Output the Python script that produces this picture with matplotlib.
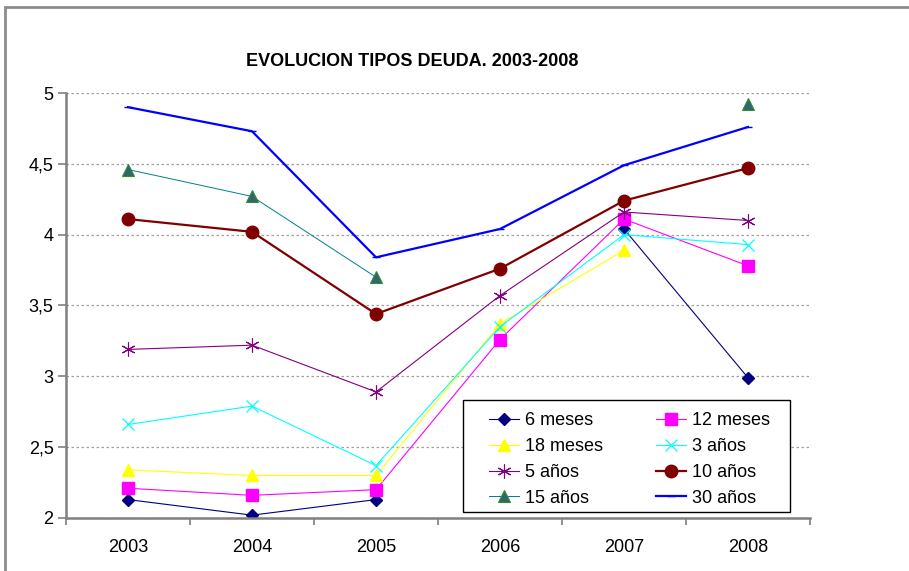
import numpy as np
import matplotlib
matplotlib.use("Agg")
import matplotlib.pyplot as plt
from matplotlib.patches import Rectangle

plt.rcParams['font.family'] = ['Liberation Sans', 'DejaVu Sans']

years = ["2003", "2004", "2005", "2006", "2007", "2008"]
nan = np.nan

seis_meses = [2.13, 2.02, 2.13, nan, 4.04, 2.99]
doce_meses = [2.21, 2.16, 2.20, 3.26, 4.11, 3.78]
dieciocho_meses = [2.34, 2.30, 2.30, 3.37, 3.89, nan]
tres_anos = [2.66, 2.79, 2.37, 3.35, 4.00, 3.93]
cinco_anos = [3.19, 3.22, 2.89, 3.57, 4.16, 4.10]
diez_anos = [4.11, 4.02, 3.44, 3.76, 4.24, 4.47]
quince_anos = [4.46, 4.27, 3.70, nan, nan, 4.92]
treinta_anos = [4.90, 4.73, 3.84, 4.04, 4.49, 4.76]

y_ticks = [2, 2.5, 3, 3.5, 4, 4.5, 5]
y_labels = ["2", "2,5", "3", "3,5", "4", "4,5", "5"]

fig = plt.figure(figsize=(9.09, 5.71), dpi=100)
# outer chart frame
fig.patches.append(Rectangle((5 / 909, -0.1), 1.2, (571 - 7) / 571 + 0.1,
                             transform=fig.transFigure, fill=False,
                             edgecolor="#8c8c8c", linewidth=2))

ax = fig.add_axes([66 / 909, 1 - 518 / 571, 744 / 909, 425 / 571])
x = np.arange(len(years))

ax.plot(x, seis_meses, color="#000080", lw=0.8, marker="D", ms=6.5,
        label="6 meses")
ax.plot(x, doce_meses, color="#ff00ff", lw=0.8, marker="s", ms=8.5,
        label="12 meses")
ax.plot(x, dieciocho_meses, color="#ffff00", lw=0.8, marker="^", ms=9,
        label="18 meses")
ax.plot(x, tres_anos, color="#00ffff", lw=0.8, marker="x", ms=8, mew=0.9,
        label="3 años")
ax.plot(x, cinco_anos, color="#800080", lw=0.8, marker=(6, 2, 0), ms=10,
        mew=0.8, label="5 años")
ax.plot(x, diez_anos, color="#800000", lw=1.6, marker="o", ms=9,
        label="10 años")
ax.plot(x, quince_anos, color="#008080", lw=0.7, marker="^", ms=9,
        mfc="#336666", mec="#2e8b3e", mew=0.8, label="15 años")
ax.plot(x, treinta_anos, color="#0000ff", lw=1.6, marker="_", ms=6,
        label="30 años")

ax.set_xlim(-0.5, len(years) - 0.5)
ax.set_ylim(2, 5)
ax.set_xticks(x)
ax.set_xticklabels(years, fontsize=13)
ax.set_xticks(np.arange(-0.5, len(years)), minor=True)
ax.tick_params(axis="x", which="major", length=0, pad=15)
ax.tick_params(axis="x", which="minor", length=5, width=1.2, color="#808080",
               direction="out")
ax.set_yticks(y_ticks)
ax.set_yticklabels(y_labels, fontsize=13)
ax.tick_params(axis="y", length=6, width=1.2, color="#808080", pad=3)

ax.grid(axis="y", color="#a0a0a0", linestyle=(0, (2, 2)), linewidth=0.9)
ax.set_axisbelow(True)
for s in ["top", "right"]:
    ax.spines[s].set_visible(False)
for s in ["left", "bottom"]:
    ax.spines[s].set_color("#808080")
    ax.spines[s].set_linewidth(1.8)

# legend box drawn separately so the padding can match the original
ax.add_patch(Rectangle((0.5336, 0.0141), 0.4395, 0.2635, transform=ax.transAxes,
                       facecolor="white", edgecolor="black", linewidth=1.0,
                       zorder=4.5, clip_on=False))

# legend filled row by row, like the original
handles, labels = ax.get_legend_handles_labels()
order = [0, 2, 4, 6, 1, 3, 5, 7]
leg = ax.legend([handles[i] for i in order], [labels[i] for i in order],
                ncol=2, loc="upper left", bbox_to_anchor=(0.5685, 0.249),
                fontsize=13, frameon=False, handlelength=1.67,
                handletextpad=0.33, borderaxespad=0, borderpad=0,
                labelspacing=0.49, columnspacing=2.95)
leg.set_zorder(5)

fig.text(412 / 909, 1 - 61 / 571, "EVOLUCION TIPOS DEUDA. 2003-2008",
         ha="center", va="center", fontsize=13, fontweight="bold")

fig.savefig("out.png", dpi=100)
